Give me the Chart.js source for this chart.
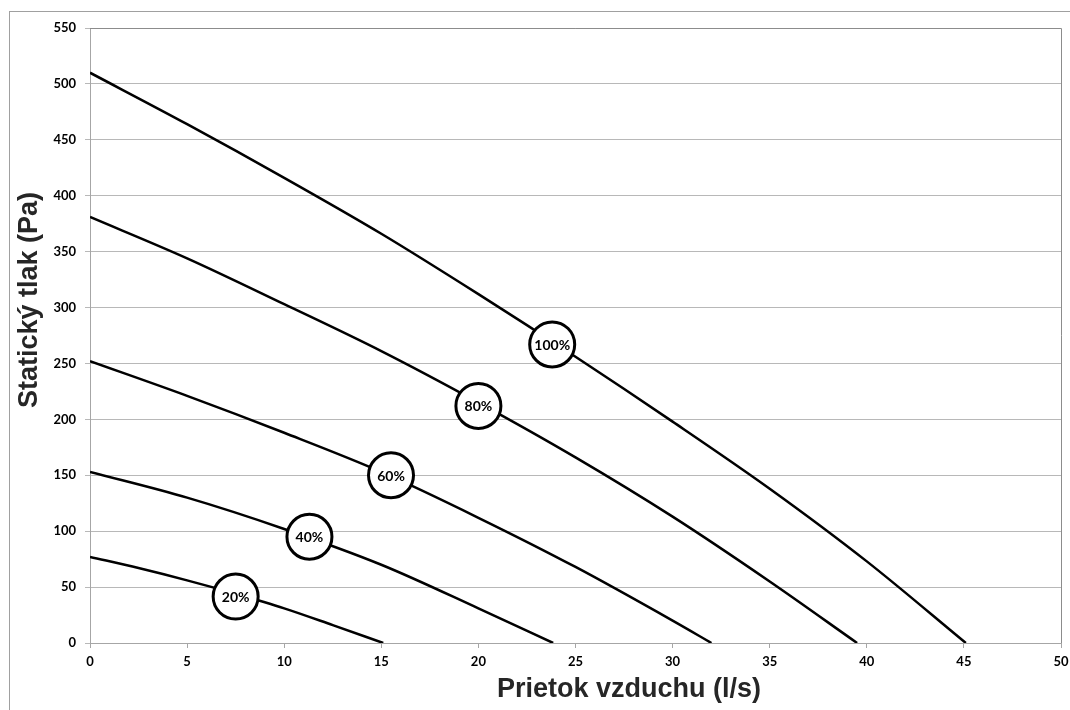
<!DOCTYPE html>
<html>
<head>
<meta charset="utf-8">
<script src="https://cdn.jsdelivr.net/npm/chart.js@4"></script>
<style>
  body { margin: 0; background: #fff; }
  #wrap { position: relative; width: 1070px; height: 710px; overflow: hidden; }
  #frame { position: absolute; left: 9px; top: 11px; width: 1100px; height: 750px; border: 1px solid #a0a0a0; }
  canvas { position: absolute; left: 0; top: 0; }
</style>
</head>
<body>
<div id="wrap">
  <div id="frame"></div>
  <canvas id="chart" width="1070" height="710"></canvas>
</div>
<script>
// fan curves: flow (l/s) vs static pressure (Pa)
var flow100 = [0, 5, 10, 15, 20, 25, 30, 35, 40, 45.1];
var pres100 = [510, 464, 416, 366, 312, 256, 198, 138, 73, 0];
var flow80 = [0, 5, 10, 15, 20, 25, 30, 35, 39.5];
var pres80 = [381, 344, 303, 261, 215, 166, 113, 55, 0];
var flow60 = [0, 5, 10, 15, 20, 25, 30, 32];
var pres60 = [252, 221, 188, 153, 112, 68, 20, 0];
var flow40 = [0, 5, 10, 15, 20, 23.85];
var pres40 = [153, 130, 102, 70, 31, 0];
var flow20 = [0, 2.5, 5, 7.5, 10, 12.5, 15.1];
var pres20 = [77, 67, 56, 44, 31, 16, 0];

// circle labels on the curves
var speedLabels = ['100%', '80%', '60%', '40%', '20%'];
var labelX = [23.8, 20.0, 15.5, 11.3, 7.5];
var labelY = [267, 212, 150, 95, 41.5];

var xTicks = [0, 5, 10, 15, 20, 25, 30, 35, 40, 45, 50];

function pts(xs, ys) {
    var out = [];
    for (var i = 0; i < xs.length; i++) out.push({x: xs[i], y: ys[i]});
    return out;
}

function curve(xs, ys) {
    return {
        type: 'line',
        data: pts(xs, ys),
        borderColor: '#000',
        borderWidth: 2.5,
        pointRadius: 0,
        fill: false,
        cubicInterpolationMode: 'monotone',
        order: 2
    };
}

var tickFont = { family: 'Lato', weight: 'bold', size: 13 };

// draws the % text inside the circles, axis titles and plot border
var extras = {
    id: 'extras',
    afterDatasetsDraw: function(chart) {
        var ctx = chart.ctx;
        var meta = chart.getDatasetMeta(0);
        ctx.save();
        ctx.fillStyle = '#000';
        ctx.font = 'bold 14px Lato';
        ctx.textAlign = 'center';
        ctx.textBaseline = 'middle';
        meta.data.forEach(function(el, i) {
            ctx.fillText(speedLabels[i], el.x, el.y + 1);
        });
        ctx.restore();
    },
    afterDraw: function(chart) {
        var ctx = chart.ctx, a = chart.chartArea;
        ctx.save();
        ctx.strokeStyle = '#8c8c8c';
        ctx.lineWidth = 1;
        ctx.beginPath();
        ctx.moveTo(a.left, a.top + 0.5);
        ctx.lineTo(a.right + 0.5, a.top + 0.5);
        ctx.lineTo(a.right + 0.5, a.bottom);
        ctx.stroke();

        ctx.fillStyle = '#262626';
        ctx.font = 'bold 27px "Liberation Sans", Arial';
        ctx.textAlign = 'center';
        ctx.textBaseline = 'middle';
        ctx.fillText('Prietok vzduchu (l/s)', 629, 690);
        ctx.translate(30, 300);
        ctx.rotate(-Math.PI / 2);
        ctx.fillText('Statický tlak (Pa)', 0, 0);
        ctx.restore();
    }
};

var ctx = document.getElementById('chart').getContext('2d');
var chart = new Chart(ctx, {
    type: 'scatter',
    data: {
        datasets: [
            {
                type: 'scatter',
                data: pts(labelX, labelY),
                pointRadius: 22.5,
                pointHoverRadius: 22.5,
                pointBackgroundColor: '#fff',
                pointBorderColor: '#000',
                pointBorderWidth: 3,
                order: 1
            },
            curve(flow100, pres100),
            curve(flow80, pres80),
            curve(flow60, pres60),
            curve(flow40, pres40),
            curve(flow20, pres20)
        ]
    },
    options: {
        responsive: false,
        animation: false,
        devicePixelRatio: 1,
        layout: {
            autoPadding: false,
            padding: { top: 28, right: 9, left: 0, bottom: 0 }
        },
        plugins: {
            legend: { display: false },
            tooltip: { enabled: false }
        },
        scales: {
            x: {
                type: 'linear',
                min: 0,
                max: 50,
                afterBuildTicks: function(scale) {
                    scale.ticks = xTicks.map(function(v) { return {value: v}; });
                },
                afterFit: function(scale) {
                    scale.height = 67;
                    scale.paddingRight = 0;
                    scale.paddingLeft = 0;
                },
                grid: {
                    drawOnChartArea: false,
                    color: '#a6a6a6',
                    tickLength: 5
                },
                border: { color: '#a6a6a6' },
                ticks: { color: '#000', font: tickFont, padding: 6, maxRotation: 0 }
            },
            y: {
                type: 'linear',
                min: 0,
                max: 550,
                ticks: { stepSize: 50, color: '#000', font: tickFont, padding: 9 },
                afterFit: function(scale) { scale.width = 90; },
                grid: {
                    color: '#b8b8b8',
                    tickLength: 5
                },
                border: { color: '#a6a6a6' }
            }
        }
    },
    plugins: [extras]
});
</script>
</body>
</html>
